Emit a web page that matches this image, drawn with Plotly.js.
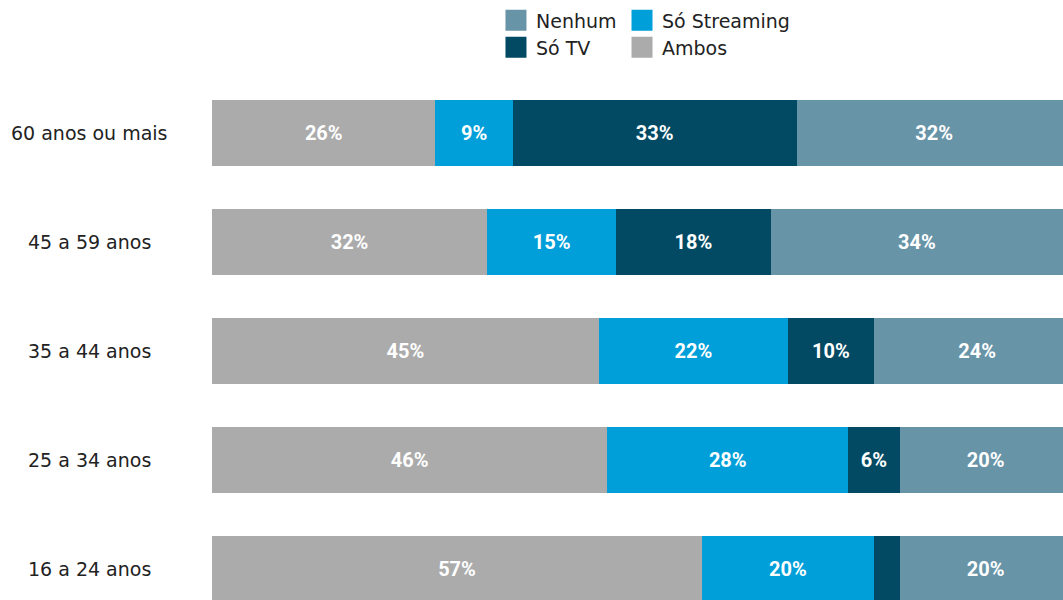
<!DOCTYPE html>
<html>
<head>
<meta charset="utf-8">
<script src="https://cdn.plot.ly/plotly-3.0.1.min.js"></script>
<style>html,body{margin:0;padding:0;background:#fff;}#chart{width:1063px;height:600px;}</style>
</head>
<body>
<div id="chart"></div>
<script>
const categories = ['60 anos ou mais', '45 a 59 anos', '35 a 44 anos', '25 a 34 anos', '16 a 24 anos'];
const ambos = [26, 32, 45, 46, 57];
const soStreaming = [9, 15, 22, 28, 20];
const soTV = [33, 18, 10, 6, 3];
const nenhum = [32, 34, 24, 20, 20];

const colors = {ambos: '#ababab', streaming: '#009fd9', tv: '#024a63', nenhum: '#6894a8'};
const labelOf = v => (v >= 5 ? v + '%' : '');

function barTrace(name, vals, color) {
  return {
    type: 'bar', orientation: 'h', name: name, showlegend: false,
    y: categories, x: vals,
    text: vals.map(labelOf), textposition: 'inside', insidetextanchor: 'middle',
    textangle: 0, constraintext: 'none',
    textfont: {family: 'Roboto, sans-serif', size: 20, color: '#ffffff', weight: 700},
    marker: {color: color, line: {width: 0}},
    hoverinfo: 'skip'
  };
}

// legend-only proxies (no data drawn) so the legend squares can be larger
function legendProxy(name, color, legend) {
  return {
    type: 'scatter', mode: 'markers', name: name, x: [null], y: [null],
    marker: {symbol: 'square', size: 16, color: color, line: {width: 5, color: color}},
    showlegend: true, legend: legend, hoverinfo: 'skip'
  };
}

const data = [
  barTrace('Ambos', ambos, colors.ambos),
  barTrace('Só Streaming', soStreaming, colors.streaming),
  barTrace('Só TV', soTV, colors.tv),
  barTrace('Nenhum', nenhum, colors.nenhum),
  legendProxy('Nenhum', colors.nenhum, 'legend'),
  legendProxy('Só Streaming', colors.streaming, 'legend2'),
  legendProxy('Só TV', colors.tv, 'legend3'),
  legendProxy('Ambos', colors.ambos, 'legend4')
];

const legendCommon = {
  orientation: 'h', xanchor: 'left', yanchor: 'top', itemsizing: 'trace',
  font: {family: 'DejaVu Sans, sans-serif', size: 19, color: '#222222'},
  bgcolor: 'rgba(0,0,0,0)', itemclick: false, itemdoubleclick: false
};
const xCol1 = 0.3337, xCol2 = 0.4818, yRow1 = 1.1294, yRow2 = 1.0785;

const layout = {
  width: 1063, height: 600,
  margin: {l: 212, r: 0, t: 70, b: 0},
  paper_bgcolor: '#ffffff', plot_bgcolor: '#ffffff',
  barmode: 'stack', bargap: 0.40,
  showlegend: true,
  legend: Object.assign({}, legendCommon, {x: xCol1, y: yRow1}),
  legend2: Object.assign({}, legendCommon, {x: xCol2, y: yRow1}),
  legend3: Object.assign({}, legendCommon, {x: xCol1, y: yRow2}),
  legend4: Object.assign({}, legendCommon, {x: xCol2, y: yRow2}),
  xaxis: {range: [0, 99], visible: false, fixedrange: true},
  yaxis: {type: 'category', categoryorder: 'array', categoryarray: categories,
          range: [4.284, -0.578], showticklabels: false, showgrid: false,
          zeroline: false, showline: false, ticks: '', fixedrange: true},
  annotations: categories.map(c => ({
    text: c, xref: 'paper', yref: 'y', x: -0.1434, y: c,
    xanchor: 'center', yanchor: 'middle', showarrow: false,
    font: {family: 'DejaVu Sans, sans-serif', size: 19, color: '#222222'}
  }))
};

Plotly.newPlot('chart', data, layout, {displayModeBar: false, staticPlot: true});
</script>
</body>
</html>
